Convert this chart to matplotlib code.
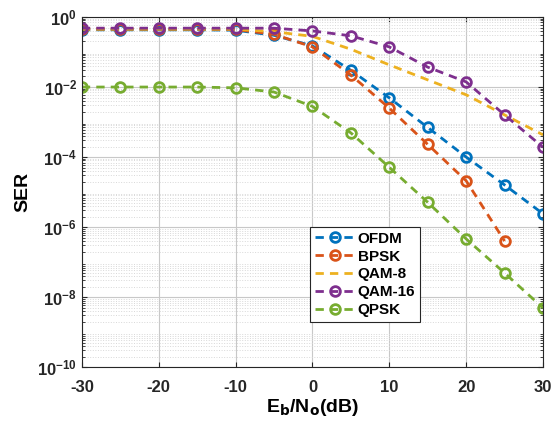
import numpy as np
import matplotlib

matplotlib.use("Agg")
import matplotlib.pyplot as plt

plt.rcParams.update({"font.family": ["Liberation Sans", "DejaVu Sans"], "font.weight": "bold",
                     "axes.unicode_minus": False})

# --- data (SNR in dB, symbol error rate) ---
snr_db = [-30, -25, -20, -15, -10, -5, 0, 5, 10, 15, 20, 25, 30]
ser_ofdm = [0.43, 0.43, 0.43, 0.43, 0.42, 0.30, 0.15, 3.0e-2, 4.9e-3, 7.0e-4, 1.0e-4, 1.6e-5, 2.4e-6]
snr_bpsk = [-30, -25, -20, -15, -10, -5, 0, 5, 10, 15, 20, 25]
ser_bpsk = [0.45, 0.45, 0.45, 0.45, 0.44, 0.32, 0.14, 2.2e-2, 2.5e-3, 2.3e-4, 2.1e-5, 4.0e-7]
ser_qam8 = [0.45, 0.45, 0.45, 0.45, 0.45, 0.38, 0.28, 0.12, 4.3e-2, 1.6e-2, 6.0e-3, 1.6e-3, 4.3e-4]
ser_qam16 = [0.48, 0.48, 0.48, 0.48, 0.48, 0.48, 0.40, 0.29, 0.14, 3.7e-2, 1.4e-2, 1.6e-3, 1.9e-4]
ser_qpsk = [1.0e-2, 1.0e-2, 1.0e-2, 1.0e-2, 9.5e-3, 7.2e-3, 2.8e-3, 4.9e-4, 5.1e-5, 5.1e-6, 4.6e-7, 4.9e-8, 4.9e-9]

BLUE = "#0072BD"
ORANGE = "#D95319"
YELLOW = "#EDB120"
PURPLE = "#7E2F8E"
GREEN = "#77AC30"

fig = plt.figure(figsize=(5.53, 4.25), dpi=100)
ax = fig.add_axes([0.148, 0.136, 0.834, 0.824])

mk = dict(marker="o", markersize=7, markerfacecolor="none", markeredgewidth=2, linewidth=2, dashes=(3, 2.2))
ax.semilogy(snr_db, ser_ofdm, color=BLUE, label="OFDM", **mk)
ax.semilogy(snr_bpsk, ser_bpsk, color=ORANGE, label="BPSK", **mk)
ax.semilogy(snr_db, ser_qam8, color=YELLOW, label="QAM-8", linewidth=2, dashes=(3, 2.2))
ax.semilogy(snr_db, ser_qam16, color=PURPLE, label="QAM-16", **mk)
ax.semilogy(snr_db, ser_qpsk, color=GREEN, label="QPSK", **mk)

ax.set_xlim(-30, 30)
ax.set_ylim(1e-10, 1)
ax.set_xticks([-30, -20, -10, 0, 10, 20, 30])
ax.set_yticks([1e-10, 1e-8, 1e-6, 1e-4, 1e-2, 1])
ax.yaxis.set_minor_locator(matplotlib.ticker.LogLocator(base=10, subs=np.arange(2, 10), numticks=20))
ax.yaxis.set_minor_formatter(matplotlib.ticker.NullFormatter())

ax.grid(True, which="major", color="#c8c8c8", linewidth=0.8)
ax.grid(True, which="minor", axis="y", color="#d8d8d8", linestyle=":", linewidth=0.7)
ax.set_axisbelow(True)
ax.tick_params(which="both", direction="in", top=True, right=True, labelsize=12, colors="#262626")
ax.tick_params(axis="x", pad=9)
for s in ax.spines.values():
    s.set_color("#262626")
    s.set_linewidth(0.8)

ax.set_xlabel(r"E$_\mathbf{b}$/N$_\mathbf{o}$(dB)", fontsize=14, fontweight="bold", labelpad=2)
ax.set_ylabel("SER", fontsize=14, fontweight="bold", labelpad=4)

leg = ax.legend(loc="upper left", bbox_to_anchor=(0.495, 0.40), fontsize=11, fancybox=False,
                edgecolor="#262626", framealpha=1, handlelength=2.6, handletextpad=0.2,
                labelspacing=0.25, borderpad=0.3, borderaxespad=0)
leg.get_frame().set_linewidth(0.8)

fig.savefig("out.png", dpi=100)
